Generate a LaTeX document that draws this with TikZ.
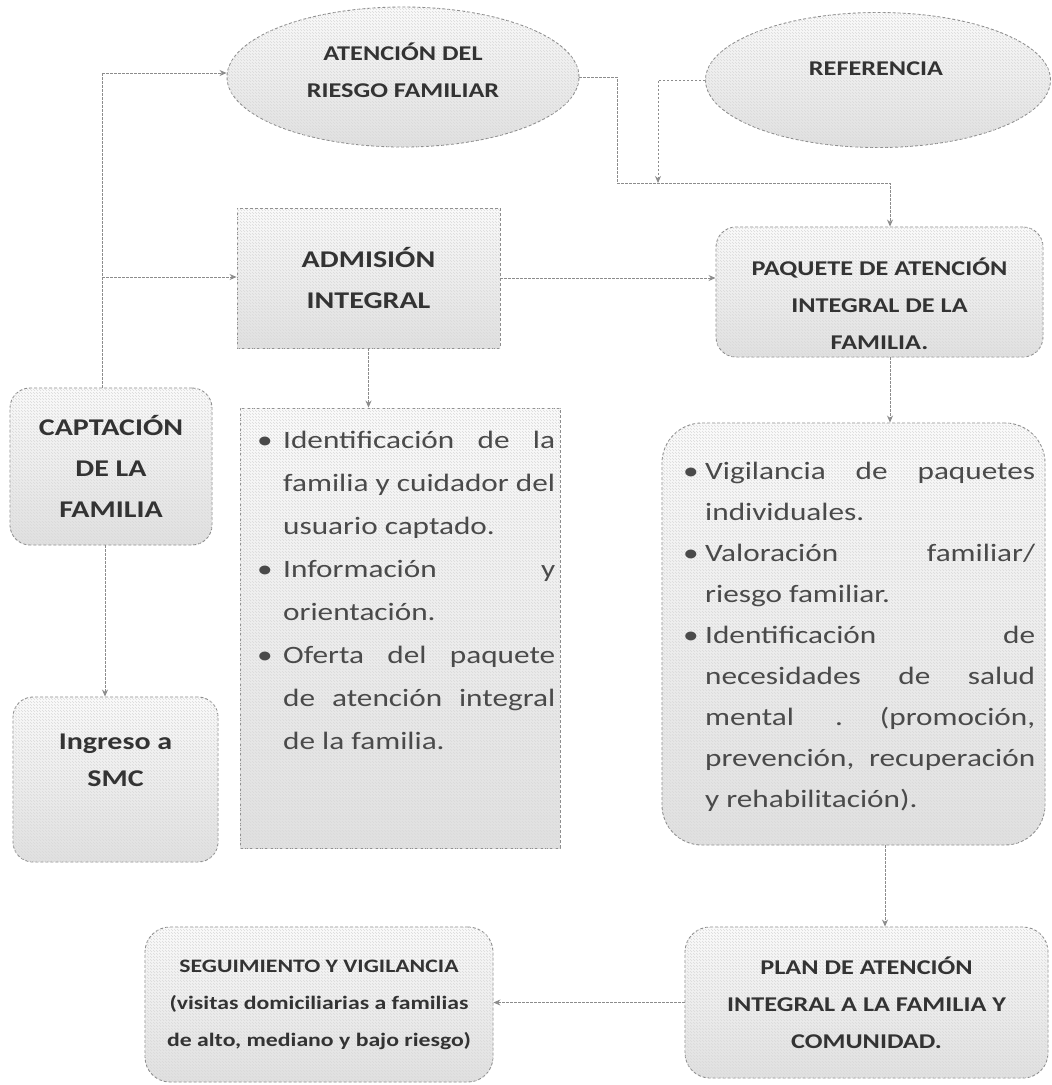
\documentclass[tikz,border=0pt]{standalone}
\usepackage{fontspec}
\setmainfont{Carlito}[FakeStretch=1.25]
\usetikzlibrary{shapes.geometric,arrows.meta,patterns}
\definecolor{txt}{HTML}{333333}
\definecolor{btxt}{HTML}{4A4A4A}
\definecolor{lin}{HTML}{8C8C8C}
\newcommand\bul[2]{\par\noindent\hangindent=#1\hangafter=1\makebox[#1][l]{\textbullet}#2\par}
\tikzset{
  base/.style={draw=lin, dash pattern=on 3pt off 2pt, line width=0.9pt,
    top color=gray!3, bottom color=gray!24,
    postaction={pattern=north west lines, pattern color=gray!30},
    text=txt, inner sep=0pt, align=center},
  rbox/.style={base, rectangle, rounded corners=#1},
  rbox/.default=20pt,
  sbox/.style={base, rectangle},
  ell/.style={base, ellipse},
  ttl/.style={font=\bfseries\fontsize{21}{37}\selectfont},
  bigttl/.style={font=\bfseries\fontsize{24}{41}\selectfont},
  btext/.style={anchor=north west, text=btxt, inner sep=0pt, align=justify},
  conn/.style={draw=lin, line width=0.9pt, dash pattern=on 2.5pt off 1.5pt,
    -{Stealth[length=7pt,width=6pt]}},
  plain/.style={draw=lin, line width=0.9pt, dash pattern=on 2.5pt off 1.5pt}
}
\begin{document}
\begin{tikzpicture}[x=1pt,y=-1pt]
\useasboundingbox[fill=white] (0,0) rectangle (1052,1085);

% ellipses
\node[ell, minimum width=352pt, minimum height=140pt] (ate) at (403,77) {};
\node[ttl, text=txt, align=center] (atet) at (403,70) {ATENCIÓN DEL\\RIESGO FAMILIAR};
\node[ell, minimum width=345pt, minimum height=135pt] (ref) at (878,80) {};
\node[ttl, text=txt] (reft) at (876,69) {REFERENCIA};

% boxes
\node[sbox, minimum width=263pt, minimum height=140pt, bigttl] (adm) at (368.5,278)
  {ADMISIÓN\\INTEGRAL};
\node[rbox, minimum width=327pt, minimum height=130pt] (paq) at (879.5,292) {};
\node[ttl, text=txt, align=center] (paqt) at (879.5,304)
  {PAQUETE DE ATENCIÓN\\INTEGRAL DE LA\\FAMILIA.};
\node[rbox, minimum width=202pt, minimum height=157pt, bigttl] (cap) at (111,466.5)
  {CAPTACIÓN\\DE LA\\FAMILIA};
\node[rbox, minimum width=205pt, minimum height=165pt] (ing) at (115.5,779.5) {};
\node[font=\bfseries\fontsize{24}{37}\selectfont, text=txt, align=center] (ingt) at (115.5,760)
  {Ingreso a\\SMC};
\node[sbox, minimum width=320pt, minimum height=440pt] (b1) at (400,628) {};
\node[rbox=40pt, minimum width=383pt, minimum height=422pt] (b2) at (853.5,634) {};
\node[rbox=25pt, minimum width=363pt, minimum height=151pt,
  font=\bfseries\fontsize{21}{37}\selectfont] (plan) at (866.5,1002.5)
  {PLAN DE ATENCIÓN\\INTEGRAL A LA FAMILIA Y\\COMUNIDAD.};
\node[rbox=25pt, minimum width=348pt, minimum height=155pt,
  font=\bfseries\fontsize{19}{37}\selectfont] (seg) at (319,1004.5)
  {SEGUIMIENTO Y VIGILANCIA\\(visitas domiciliarias a familias\\de alto, mediano y bajo riesgo)};

% bullet texts
\node[btext, text width=298pt, font=\fontsize{25}{43}\selectfont] (b1t) at (257,405)
  {\bul{26pt}{Identificación de la\linebreak familia y cuidador del\linebreak usuario captado.}
   \bul{26pt}{Información y\linebreak orientación.}
   \bul{26pt}{Oferta del paquete\linebreak de atención integral\linebreak de la familia.}};
\node[btext, text width=352pt, font=\fontsize{25}{41}\selectfont] (b2t) at (683,438)
  {\bul{22pt}{Vigilancia de paquetes\linebreak individuales.}
   \bul{22pt}{Valoración familiar/\linebreak riesgo familiar.}
   \bul{22pt}{Identificación de\linebreak necesidades de salud\linebreak mental \quad . (promoción,\linebreak prevención, recuperación\linebreak y rehabilitación).}};

% junction coordinates
\coordinate (t1) at (102,73);
\coordinate (t2) at (102,277);
\coordinate (j1) at (617,183);
\coordinate (j2) at (890,183);
\coordinate (j3) at (658,183);
\coordinate (j4) at (885,900);

% connectors
\draw[plain] (cap.north -| t1) -- (t1);
\draw[conn] (t1) -- (t1 -| ate.west);
\draw[conn] (t2) -- (t2 -| adm.west);
\draw[conn] (ate.east) -| (j1) -- (j2) -- (j2 |- paq.north);
\draw[conn] (ref.west) -| (j3);
\draw[conn] (adm.east) -- (adm.east -| paq.west);
\draw[conn] (adm.south) -- (adm.south |- b1.north);
\draw[conn] (j2 |- paq.south) -- (j2 |- b2.north);
\draw[conn] (j4 |- b2.south) -- (j4 |- plan.north);
\draw[conn] (plan.west) -- (plan.west -| seg.east);
\draw[conn] (cap.south -| 105,0) -- (ing.north -| 105,0);
\end{tikzpicture}
\end{document}
